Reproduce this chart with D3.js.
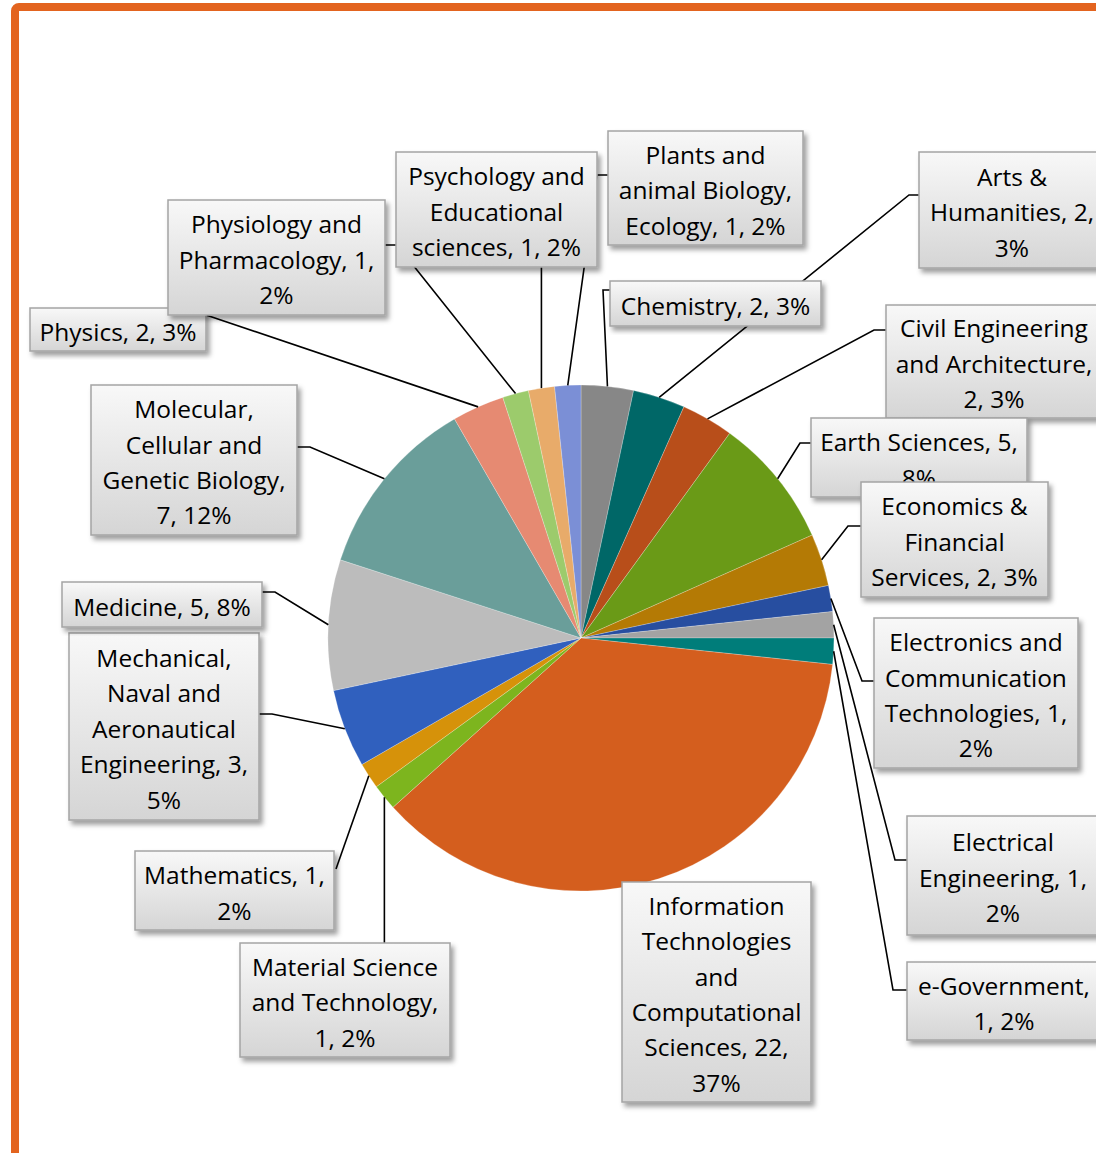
<!DOCTYPE html>
<html><head><meta charset="utf-8">
<script src="https://cdn.jsdelivr.net/npm/d3@7"></script>
<style>html,body{margin:0;padding:0;background:#fff;overflow:hidden}</style>
</head><body>
<svg id="chart" width="1096" height="1153"></svg>
<script>
// ---- data ----
const categories = ["Chemistry","Arts & Humanities","Civil Engineering and Architecture","Earth Sciences","Economics & Financial Services","Electronics and Communication Technologies","Electrical Engineering","e-Government","Information Technologies and Computational Sciences","Material Science and Technology","Mathematics","Mechanical, Naval and Aeronautical Engineering","Medicine","Molecular, Cellular and Genetic Biology","Physics","Physiology and Pharmacology","Psychology and Educational sciences","Plants and animal Biology, Ecology"];
const values = [2,2,2,5,2,1,1,1,22,1,1,3,5,7,2,1,1,1];
const colors = ["#878787","#006767","#b84e1a","#6a9a17","#b47a05","#274ea0","#a3a3a3","#007d7a","#d45e1e","#7db51e","#d6920a","#3060be","#bcbcbc","#6a9e9a","#e68a72","#9ccb6c","#e8ab6a","#7b8fd6"];
// words per wrapped line of each data label
const wrapWords = [[3],[2,2,1],[2,2,2],[3,1],[2,1,3],[2,1,2,1],[1,2,1],[1,2],[1,1,1,1,2,1],[2,2,2],[2,1],[1,2,1,2,1],[3],[1,2,2,2],[3],[2,2,1],[2,1,3],[2,2,3]];

// ---- layout ----
const cx = 581, cy = 638, R = 253;
const boxes = [[610,281,211,45],[919,152,186,116],[886,305,216,113],[811,418,216,79],[861,482,187,115],[874,618,204,150],[907,816,192,119],[907,962,194,78],[622,882,189,220],[240,943,210,114],[135,851,199,79],[69,633,190,187],[62,582,200,45],[91,385,206,150],[30,308,176,43],[168,200,217,115],[396,152,201,115],[608,131,195,114]];
const leads = [[[603,290],[610,290]],[[909,195],[919,195]],[[874,330],[886,330]],[[800,443],[811,443]],[[848,526],[861,526]],[[862,681],[874,681]],[[895,860],[907,860]],[[893,990],[907,990]],null,[[384,943]],[[336,869]],[[272,714],[259,714]],[[275,592],[262,592]],[[310,447],[297,447]],[[206,315]],[[397,245],[385,245]],[[541,267]],[[597,175],[608,175]]];

const svg = d3.select("#chart");
const defs = svg.append("defs");
const grad = defs.append("linearGradient").attr("id","boxg").attr("x1",0).attr("y1",0).attr("x2",0).attr("y2",1);
grad.append("stop").attr("offset","0%").attr("stop-color","#f8f8f8");
grad.append("stop").attr("offset","100%").attr("stop-color","#d5d5d5");
const f = defs.append("filter").attr("id","sh").attr("x","-10%").attr("y","-10%").attr("width","130%").attr("height","130%");
f.append("feDropShadow").attr("dx",3).attr("dy",4).attr("stdDeviation",2.5).attr("flood-color","#000").attr("flood-opacity",0.38);

// frame
svg.append("rect").attr("x",15).attr("y",7).attr("width",1300).attr("height",1300).attr("rx",4)
  .attr("fill","none").attr("stroke","#e3641f").attr("stroke-width",8);

const total = d3.sum(values);
const pie = d3.pie().sort(null).value(d => d)(values);
const arc = d3.arc().innerRadius(0).outerRadius(R);

const g = svg.append("g").attr("transform",`translate(${cx},${cy})`);
g.selectAll("path").data(pie).join("path")
  .attr("d",arc).attr("fill",(d,i)=>colors[i]).attr("stroke","#fff").attr("stroke-width",0.4).attr("stroke-opacity",0.6);

// leader lines
const line = d3.line();
pie.forEach((d,i)=>{
  if(!leads[i]) return;
  const a = (d.startAngle + d.endAngle)/2;
  let p0 = [cx + R*Math.sin(a), cy - R*Math.cos(a)];
  const pts = [p0].concat(leads[i].map(p=>p.slice()));
  if(i===9 || i===16){ pts[1][0] = p0[0]; }
  svg.append("path").attr("d",line(pts)).attr("fill","none").attr("stroke","#000").attr("stroke-width",1.6);
});

// labels
const fs = 24.5, lh = 35.4;
categories.forEach((c,i)=>{
  const pct = Math.round(values[i]/total*100);
  const words = `${c}, ${values[i]}, ${pct}%`.split(" ");
  const lines = []; let k = 0;
  wrapWords[i].forEach(n=>{ lines.push(words.slice(k,k+n).join(" ")); k+=n; });
  const [bx,by,bw,bh] = boxes[i];
  const lg = svg.append("g");
  lg.append("rect").attr("x",bx).attr("y",by).attr("width",bw).attr("height",bh)
    .attr("fill","url(#boxg)").attr("stroke","#a4a4a4").attr("stroke-width",1.5).attr("filter","url(#sh)");
  const tx = bx + bw/2;
  const y0 = by + bh/2 - (lines.length-1)*lh/2;
  const t = lg.append("text").attr("font-family","'Open Sans', sans-serif").attr("font-size",fs)
    .attr("fill","#000").attr("text-anchor","middle");
  lines.forEach((s,j)=>{
    t.append("tspan").attr("x",tx).attr("y",y0 + j*lh + fs*0.36 + 2.5).text(s);
  });
});
</script>
</body></html>
